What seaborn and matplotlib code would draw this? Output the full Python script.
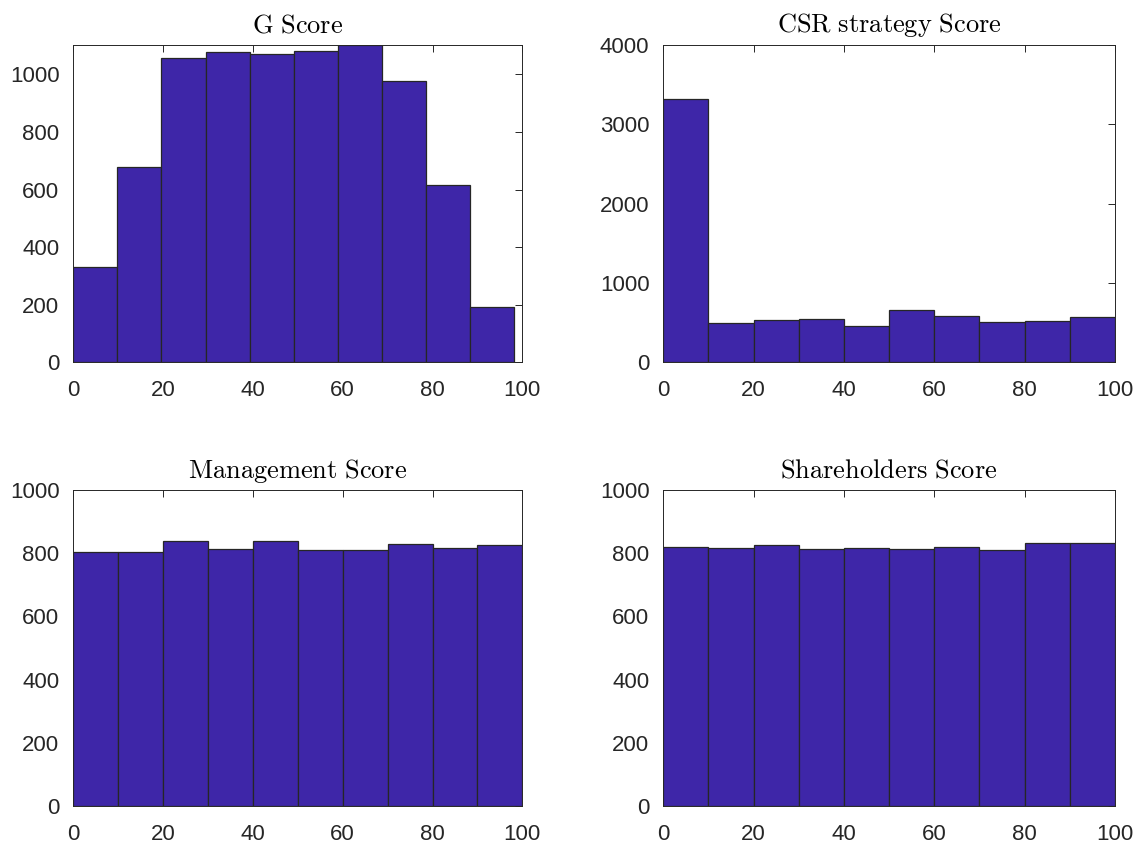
import numpy as np
import pandas as pd
import matplotlib
matplotlib.use("Agg")
import matplotlib.pyplot as plt
import seaborn as sns

# Bin edges and counts for each score histogram
g_edges = np.linspace(0, 98.15, 11)
g_counts = [330, 678, 1057, 1078, 1069, 1082, 1102, 977, 616, 191]

csr_edges = np.linspace(0, 100, 11)
csr_counts = [3325, 489, 531, 548, 459, 662, 582, 506, 523, 569]

mgmt_edges = np.linspace(0, 100, 11)
mgmt_counts = [804, 804, 839, 815, 839, 811, 810, 830, 818, 825]

share_edges = np.linspace(0, 100, 11)
share_counts = [819, 816, 825, 813, 818, 815, 821, 810, 831, 831]

titles = ["G Score", "CSR strategy Score", "Management Score", "Shareholders Score"]
x_ticks = [0, 20, 40, 60, 80, 100]

sns.set_style("white")
plt.rcParams["font.family"] = ["Liberation Sans", "DejaVu Sans"]
plt.rcParams["mathtext.fontset"] = "cm"

FACE = "#3E26A8"
EDGE = "#262626"
AXC = "#262626"

fig = plt.figure(figsize=(11.44, 8.49), dpi=100)

panels = [
    (g_edges, g_counts, titles[0], [0.0641, 0.5733, 0.3925, 0.3737], (0, max(g_counts)), np.arange(0, 1001, 200)),
    (csr_edges, csr_counts, titles[1], [0.5798, 0.5733, 0.3948, 0.3737], (0, 4000), np.arange(0, 4001, 1000)),
    (mgmt_edges, mgmt_counts, titles[2], [0.0641, 0.0506, 0.3925, 0.3722], (0, 1000), np.arange(0, 1001, 200)),
    (share_edges, share_counts, titles[3], [0.5798, 0.0506, 0.3948, 0.3722], (0, 1000), np.arange(0, 1001, 200)),
]

for edges, counts, title, rect, ylim, yticks in panels:
    ax = fig.add_axes(rect)
    edges = [float(e) for e in edges]
    mids = [(a + b) / 2 for a, b in zip(edges[:-1], edges[1:])]
    df = pd.DataFrame({"score": mids, "count": counts})
    sns.histplot(data=df, x="score", weights="count", bins=edges, ax=ax,
                 color=FACE, edgecolor=EDGE, linewidth=0.9, alpha=1.0)
    ax.set_xlim(0, 100)
    ax.set_ylim(*ylim)
    ax.set_xticks(x_ticks)
    ax.set_yticks(yticks)
    ax.set_xlabel("")
    ax.set_ylabel("")
    ax.set_title(r"$\mathrm{" + title.replace(" ", r"\ ") + "}$",
                 fontsize=19, pad=9, color="black")
    for sp in ax.spines.values():
        sp.set_visible(True)
        sp.set_color(AXC)
        sp.set_linewidth(0.7)
    ax.tick_params(axis="both", which="both", direction="in", length=5,
                   width=0.7, color=AXC, labelsize=16, labelcolor=AXC,
                   top=True, right=True)
    ax.tick_params(axis="x", pad=13)
    ax.tick_params(axis="y", pad=10)

fig.savefig("out.png", dpi=100)
